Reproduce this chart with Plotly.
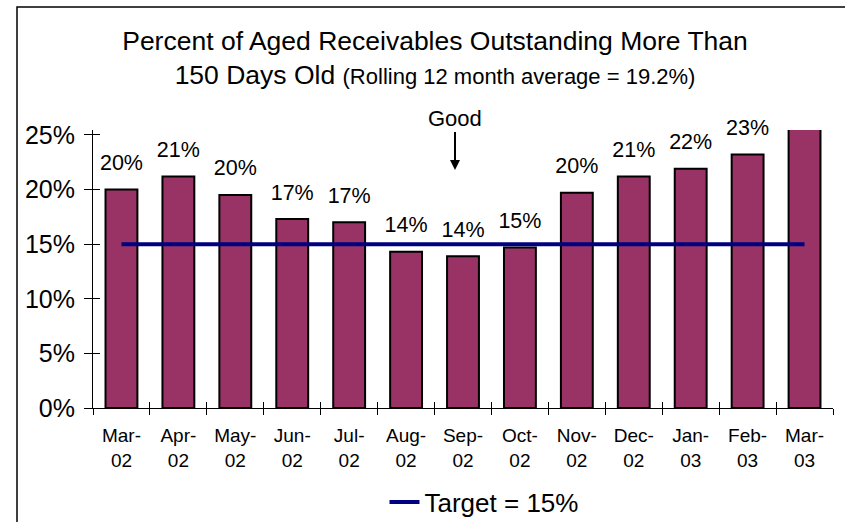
import plotly.graph_objects as go

categories = ["Mar-<br>02", "Apr-<br>02", "May-<br>02", "Jun-<br>02", "Jul-<br>02", "Aug-<br>02",
              "Sep-<br>02", "Oct-<br>02", "Nov-<br>02", "Dec-<br>02", "Jan-<br>03", "Feb-<br>03", "Mar-<br>03"]
aged_pct = [0.200, 0.212, 0.195, 0.173, 0.170, 0.143, 0.139, 0.147, 0.197, 0.212, 0.219, 0.232, 0.27]
target = [0.15] * len(categories)
show_label = [True] * 12 + [False]
y_ticks = [0, 0.05, 0.10, 0.15, 0.20, 0.25]

labels = [f"{round(v*100)}%" if s else "" for v, s in zip(aged_pct, show_label)]

FONT = "Liberation Sans, Arial, sans-serif"
n = len(categories)

fig = go.Figure()
fig.add_trace(go.Bar(
    x=categories, y=aged_pct,
    marker=dict(color="#993366", line=dict(color="black", width=2)),
    showlegend=False, cliponaxis=True, hoverinfo="skip",
))
fig.add_trace(go.Scatter(
    x=categories, y=aged_pct, text=labels, mode="markers+text",
    textposition="top center", textfont=dict(size=21.5, color="black", family=FONT),
    marker=dict(size=21, color="rgba(0,0,0,0)"), showlegend=False, cliponaxis=False,
    hoverinfo="skip",
))
fig.add_trace(go.Scatter(
    x=list(range(n)), y=target, mode="lines", name="Target = 15%",
    line=dict(color="#000080", width=4), xaxis="x2", yaxis="y2",
))

L, R, T, B = 93, 12, 130, 114
W, H = 845, 522
pw, ph = W - L - R, H - T - B

def px(x):
    return (x - L) / pw

def py(y):
    return (H - B - y) / ph

fig.update_layout(
    width=W, height=H,
    margin=dict(l=L, r=R, t=T, b=B, autoexpand=False),
    paper_bgcolor="white", plot_bgcolor="white",
    font=dict(family=FONT, color="black"),
    bargap=0.44,
    title=dict(
        text="Percent of Aged Receivables Outstanding More Than<br>150 Days Old <span style='font-size:22px'>(Rolling 12 month average = 19.2%)</span>",
        x=435 / W, xanchor="center", y=1 - 50 / H, yanchor="middle",
        font=dict(size=26.5, family=FONT),
    ),
    xaxis=dict(
        type="category", range=[-0.5, n - 0.5], tickson="boundaries", ticks="outside", ticklen=6,
        tickcolor="black", showline=True, linecolor="black", linewidth=1,
        tickfont=dict(size=19, family=FONT), showgrid=False, ticklabelstandoff=10,
    ),
    xaxis2=dict(
        overlaying="x", anchor="y", range=[-0.5, n - 0.5],
        tickvals=[i - 0.5 for i in range(n + 1)], ticks="inside", ticklen=6,
        tickcolor="black", showticklabels=False, showgrid=False, zeroline=False,
        showline=False, side="bottom",
    ),
    yaxis=dict(
        range=[0, 0.2545], tickvals=y_ticks,
        tickformat=".0%", ticks="outside", ticklen=8, tickcolor="black",
        showline=True, linecolor="black", linewidth=1, showgrid=False,
        tickfont=dict(size=25, family=FONT), zeroline=False, ticklabelstandoff=4,
    ),
    yaxis2=dict(
        overlaying="y", anchor="x", range=[0, 0.2545], tickvals=y_ticks,
        ticks="inside", ticklen=7, tickcolor="black", showticklabels=False,
        showgrid=False, zeroline=False, showline=False, side="left",
    ),
    legend=dict(
        orientation="h", x=px(484), xanchor="center", y=py(502), yanchor="middle",
        font=dict(size=26, family=FONT), bgcolor="rgba(0,0,0,0)",
    ),
    shapes=[dict(
        type="rect", xref="paper", yref="paper",
        x0=px(17), x1=px(850), y0=py(530), y1=py(7),
        line=dict(color="black", width=1.5), fillcolor="rgba(0,0,0,0)", layer="below",
    )],
    annotations=[dict(
        text="Good", xref="paper", yref="paper", x=px(455), y=py(170),
        showarrow=True, ax=0, ay=-52, arrowhead=2, arrowsize=1, arrowwidth=2,
        arrowcolor="black", font=dict(size=22, family=FONT),
    )],
)

fig.write_html("out.html", config={"displayModeBar": False},
               post_script="document.body.style.margin='0';document.body.style.overflow='hidden';")
